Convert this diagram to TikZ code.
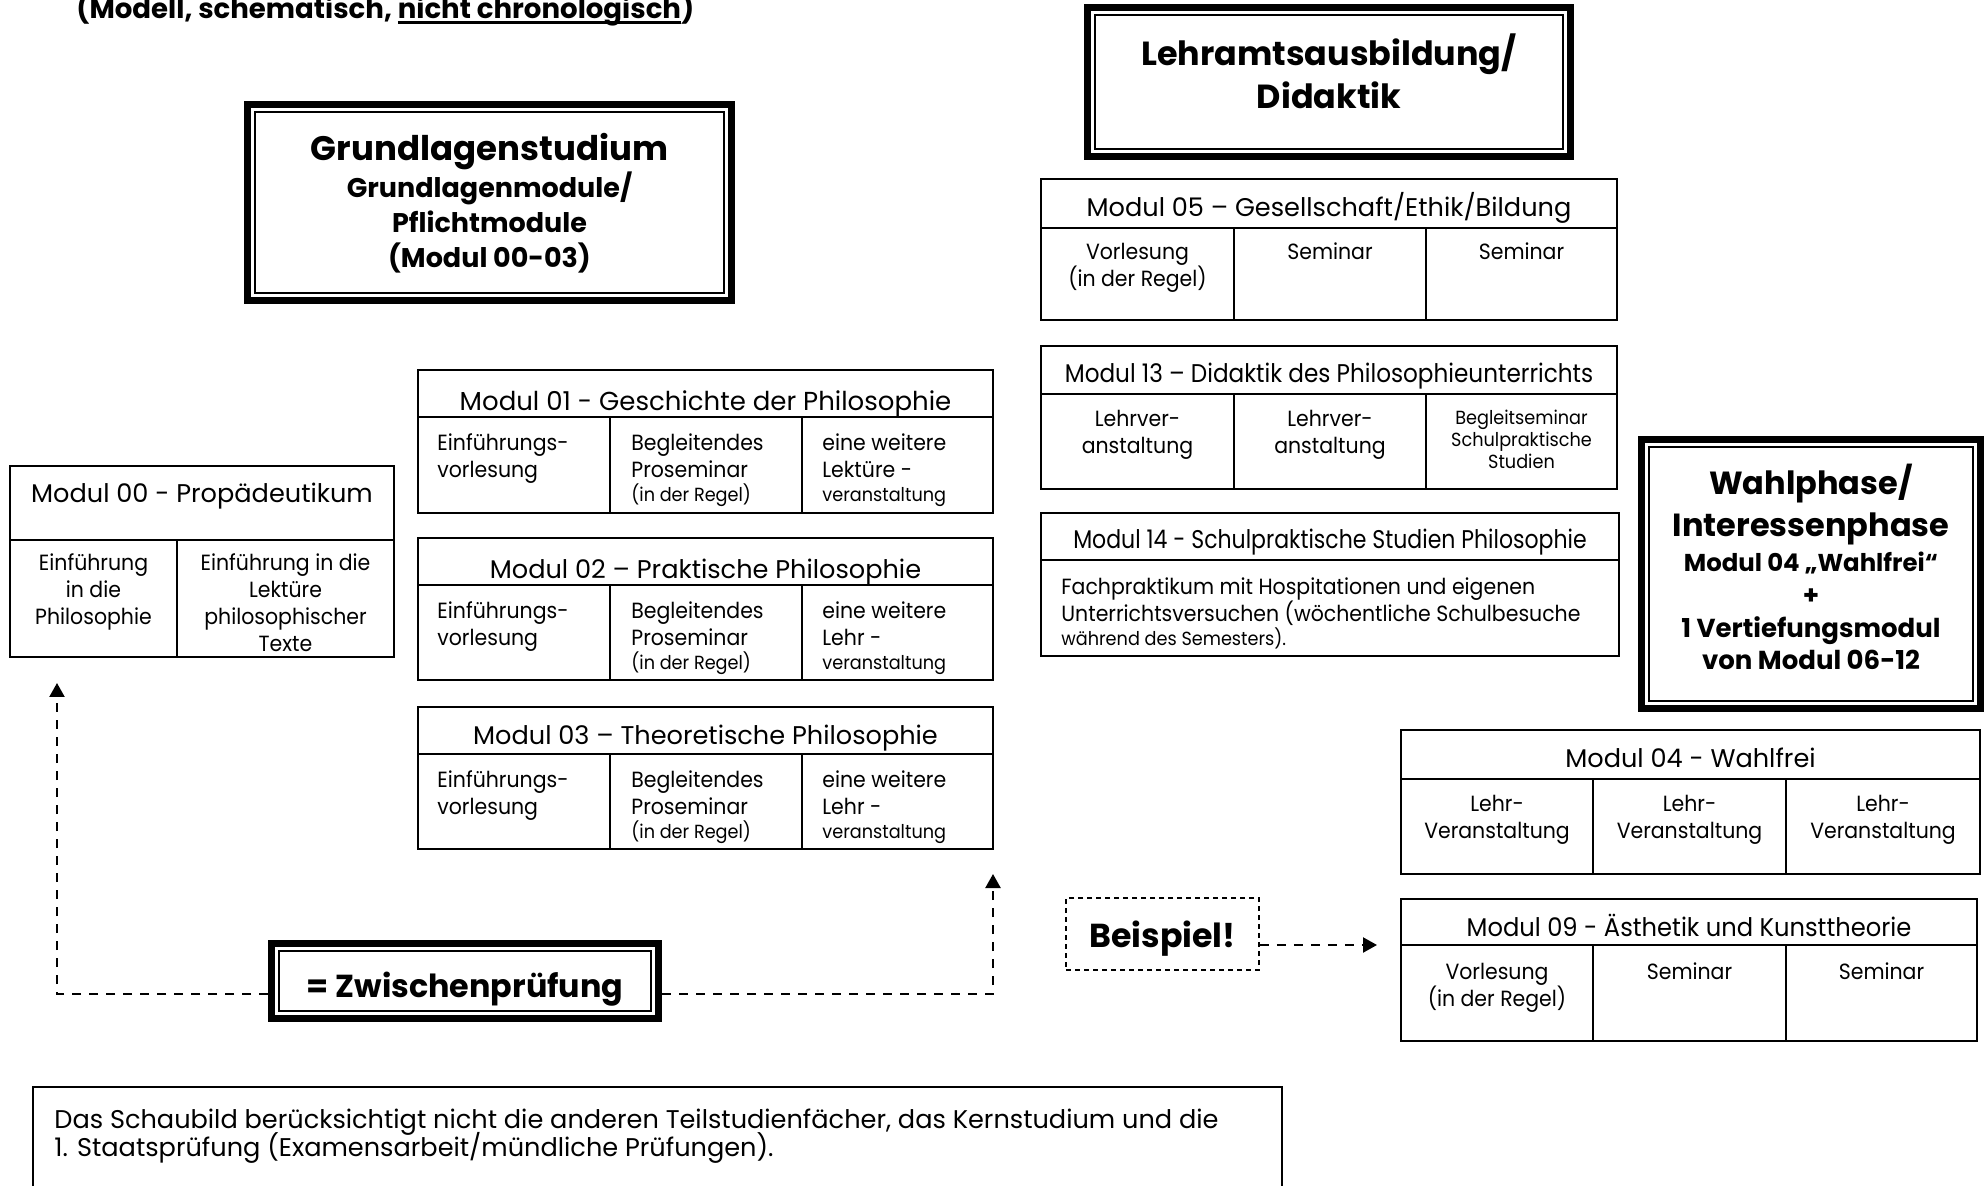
\documentclass[tikz,border=0pt]{standalone}
\usepackage{fontspec}
\usepackage{graphicx}
\setmainfont{Poppins}
\newfontfamily\bodyf[FakeStretch=0.93]{Poppins}
\usetikzlibrary{arrows.meta,calc}
\setlength{\lineskiplimit}{-50pt}
\newcommand{\smf}{\bodyf\fontsize{9.5}{11}\selectfont}
\newcommand{\hsc}[2]{\scalebox{#1}[1]{#2}}
\newcommand{\thickul}[1]{\setbox0\hbox{#1}\rlap{\rule[-2.4pt]{\wd0}{1.5pt}}\box0}
\newcommand{\mkcell}[5]{%
 \pgfmathsetmacro{\mkx}{(#2+#4)/2}\pgfmathsetmacro{\mky}{(#3+#5)/2}%
 \pgfmathsetmacro{\mkw}{(#4-#2)/2}\pgfmathsetmacro{\mkh}{(#5-#3)/2}%
 \node[cellbox, minimum width=\mkw pt, minimum height=\mkh pt] (#1) at (\mkx,\mky) {};}
\newcommand{\mkframe}[5]{%
 \pgfmathsetmacro{\mkx}{(#2+#4)/2}\pgfmathsetmacro{\mky}{(#3+#5)/2}%
 \pgfmathsetmacro{\mkw}{(#4-#2-7)/2}\pgfmathsetmacro{\mkh}{(#5-#3-7)/2}%
 \node[dframe, minimum width=\mkw pt, minimum height=\mkh pt] (#1) at (\mkx,\mky) {};}
\newcommand{\topten}{\vrule height 10pt depth 0pt width 0pt\relax}
\newcommand{\topeleven}{\vrule height 11pt depth 0pt width 0pt\relax}
\newcommand{\topfourteen}{\vrule height 14pt depth 0pt width 0pt\relax}
\tikzset{
 cellbox/.style={draw, line width=1pt, inner sep=0pt, outer sep=0pt, fill=white},
 hd/.style={anchor=base, inner sep=0pt, font=\fontsize{12.8}{16}\selectfont},
 bt/.style={anchor=north, inner sep=0pt, align=center,
   font=\bodyf\fontsize{11}{13.5}\selectfont},
 btl/.style={bt, anchor=north west, align=left},
 bigt/.style={anchor=north, inner sep=0pt, align=center,
   font=\bfseries\fontsize{13.5}{17.5}\selectfont},
 dframe/.style={draw, line width=3.5pt, inner sep=0pt,
   path picture={\draw[line width=1pt]
     ([shift={(3.75pt,-3.75pt)}]path picture bounding box.north west) rectangle
     ([shift={(-3.75pt,3.75pt)}]path picture bounding box.south east);}},
 dconn/.style={line width=1.1pt, dash pattern=on 4.5pt off 4pt,
   -{Triangle[length=7pt,width=7.5pt]}},
}
\begin{document}
\begin{tikzpicture}[x=0.5pt,y=-0.5pt]
\useasboundingbox (0,0) rectangle (1986,1186);
\clip (0,0) rectangle (1986,1186);

% title
\node[anchor=base west, inner sep=0pt, font=\bfseries\fontsize{13.8}{16}\selectfont] (title) at (76,19)
  {(Modell, schematisch, \thickul{nicht chronologisch})};

% big frames
\mkframe{grund}{244}{101}{735}{304}
\node[bigt] (grundt) at (489.5,132) {\topfourteen{\fontsize{17}{22}\selectfont Grundlagenstudium}\\[1pt]Grundlagenmodule/\\Pflichtmodule\\(Modul 00-03)};

\mkframe{lehr}{1084}{4}{1574}{160}
\node[bigt, font=\bfseries\fontsize{16.7}{21.5}\selectfont] (lehrt) at (1329,33) {\topfourteen Lehramtsausbildung/\\Didaktik};

\mkframe{wahl}{1638}{436}{1984}{712}
\node[bigt, font=\bfseries\fontsize{13}{16.5}\selectfont] (wahlt) at (1811,464)
  {\topfourteen{\fontsize{16}{21}\selectfont Wahlphase/}\\[4.5pt]{\fontsize{16}{21}\selectfont Interessenphase}\\[1pt]{\fontsize{12.2}{16}\selectfont Modul 04 „Wahlfrei“}\\+\\1 Vertiefungsmodul\\[-0.5pt]von Modul 06-12};

\mkframe{zw}{268}{940}{662}{1022}
\node[anchor=base, inner sep=0pt, font=\bfseries\fontsize{15.9}{20}\selectfont] (zwt) at (465,997) {= Zwischenprüfung};

\node[draw, line width=0.75pt, dash pattern=on 2.5pt off 2pt, minimum width=96.5pt, minimum height=36pt, inner sep=0pt,
  text depth=0pt, font=\bfseries\fontsize{16.6}{19}\selectfont] (bsp) at (1162.5,934) {Beispiel!};

% Modul 00
\mkcell{m00h}{10}{466}{394}{540}
\node[hd] (m00t) at (202,503) {Modul 00 - Propädeutikum};
\mkcell{m00a}{10}{540}{177}{657}
\mkcell{m00b}{177}{540}{394}{657}
\node[bt] (m00at) at (93.5,550) {\topten Einführung\\in die\\Philosophie};
\node[bt] (m00bt) at (285.5,550) {\topten Einführung in die\\Lektüre\\philosophischer\\Texte};

% Modul 01
\mkcell{m01h}{418}{370}{993}{417}
\node[hd, font=\fontsize{13}{16}\selectfont] (m01t) at (705.5,411) {Modul 01 - Geschichte der Philosophie};
\mkcell{m01a}{418}{417}{610}{513}
\mkcell{m01b}{610}{417}{802}{513}
\mkcell{m01c}{802}{417}{993}{513}
\node[btl] (m01at) at (437,430) {\topten Einführungs-\\vorlesung};
\node[btl] (m01bt) at (631,430) {\topten Begleitendes\\Proseminar\\[-1.5pt]{\smf (in der Regel)}};
\node[btl] (m01ct) at (822,430) {\topten eine weitere\\Lektüre -\\[-1.5pt]{\smf veranstaltung}};

% Modul 02
\mkcell{m02h}{418}{538}{993}{585}
\node[hd] (m02t) at (705.5,579) {Modul 02 – Praktische Philosophie};
\mkcell{m02a}{418}{585}{610}{680}
\mkcell{m02b}{610}{585}{802}{680}
\mkcell{m02c}{802}{585}{993}{680}
\node[btl] (m02at) at (437,598) {\topten Einführungs-\\vorlesung};
\node[btl] (m02bt) at (631,598) {\topten Begleitendes\\Proseminar\\[-1.5pt]{\smf (in der Regel)}};
\node[btl] (m02ct) at (822,598) {\topten eine weitere\\Lehr -\\[-1.5pt]{\smf veranstaltung}};

% Modul 03
\mkcell{m03h}{418}{707}{993}{754}
\node[hd] (m03t) at (705.5,745) {Modul 03 – Theoretische Philosophie};
\mkcell{m03a}{418}{754}{610}{849}
\mkcell{m03b}{610}{754}{802}{849}
\mkcell{m03c}{802}{754}{993}{849}
\node[btl] (m03at) at (437,767) {\topten Einführungs-\\vorlesung};
\node[btl] (m03bt) at (631,767) {\topten Begleitendes\\Proseminar\\[-1.5pt]{\smf (in der Regel)}};
\node[btl] (m03ct) at (822,767) {\topten eine weitere\\Lehr -\\[-1.5pt]{\smf veranstaltung}};

% Modul 05
\mkcell{m05h}{1041}{179}{1617}{228}
\node[hd] (m05t) at (1329,217) {Modul 05 – Gesellschaft/Ethik/Bildung};
\mkcell{m05a}{1041}{228}{1234}{320}
\mkcell{m05b}{1234}{228}{1426}{320}
\mkcell{m05c}{1426}{228}{1617}{320}
\node[bt] (m05at) at (1137.5,239) {\topten Vorlesung\\(in der Regel)};
\node[bt] (m05bt) at (1330,239) {\topten Seminar};
\node[bt] (m05ct) at (1521.5,239) {\topten Seminar};

% Modul 13
\mkcell{m13h}{1041}{346}{1617}{394}
\node[hd] (m13t) at (1329,383) {\hsc{0.904}{Modul 13 – Didaktik des Philosophieunterrichts}};
\mkcell{m13a}{1041}{394}{1234}{489}
\mkcell{m13b}{1234}{394}{1426}{489}
\mkcell{m13c}{1426}{394}{1617}{489}
\node[bt] (m13at) at (1137.5,406) {\topten Lehrver-\\anstaltung};
\node[bt] (m13bt) at (1330,406) {\topten Lehrver-\\anstaltung};
\node[bt, font=\smf] (m13ct) at (1521.5,404) {\topten Begleitseminar\\Schulpraktische\\Studien};

% Modul 14
\mkcell{m14h}{1041}{513}{1619}{560}
\node[hd] (m14t) at (1330,549) {\hsc{0.86}{Modul 14 - Schulpraktische Studien Philosophie}};
\mkcell{m14a}{1041}{560}{1619}{656}
\node[btl] (m14at) at (1061,574) {\topten Fachpraktikum mit Hospitationen und eigenen\\Unterrichtsversuchen (wöchentliche Schulbesuche\\[-1.5pt]{\smf während des Semesters).}};

% Modul 04
\mkcell{m04h}{1401}{730}{1980}{779}
\node[hd] (m04t) at (1690.5,768) {Modul 04 - Wahlfrei};
\mkcell{m04a}{1401}{779}{1593}{874}
\mkcell{m04b}{1593}{779}{1786}{874}
\mkcell{m04c}{1786}{779}{1980}{874}
\node[bt] (m04at) at (1497,791) {\topten Lehr-\\Veranstaltung};
\node[bt] (m04bt) at (1689.5,791) {\topten Lehr-\\Veranstaltung};
\node[bt] (m04ct) at (1883,791) {\topten Lehr-\\Veranstaltung};

% Modul 09
\mkcell{m09h}{1401}{899}{1977}{945}
\node[hd] (m09t) at (1689,936) {\hsc{0.945}{Modul 09 - Ästhetik und Kunsttheorie}};
\mkcell{m09a}{1401}{945}{1593}{1041}
\mkcell{m09b}{1593}{945}{1786}{1041}
\mkcell{m09c}{1786}{945}{1977}{1041}
\node[bt] (m09at) at (1497,959) {\topten Vorlesung\\(in der Regel)};
\node[bt] (m09bt) at (1689.5,959) {\topten Seminar};
\node[bt] (m09ct) at (1881.5,959) {\topten Seminar};

% footnote
\mkcell{note}{33}{1087}{1282}{1230}
\node[btl, font=\fontsize{12.8}{14}\selectfont] (notet) at (54,1106)
  {\topeleven Das Schaubild berücksichtigt nicht die anderen Teilstudienfächer, das Kernstudium und die\\1. Staatsprüfung (Examensarbeit/mündliche Prüfungen).};

% connectors
\coordinate (tip00) at (57,683);
\coordinate (tip03) at (993,874);
\draw[dconn] (zw.west |- 0,994) -| (tip00);
\draw[dconn] (zw.east |- 0,994) -| (tip03);
\draw[dconn, shorten >=12pt] (bsp.east |- m09a.north west) -- (m09a.north west);
\end{tikzpicture}
\end{document}
